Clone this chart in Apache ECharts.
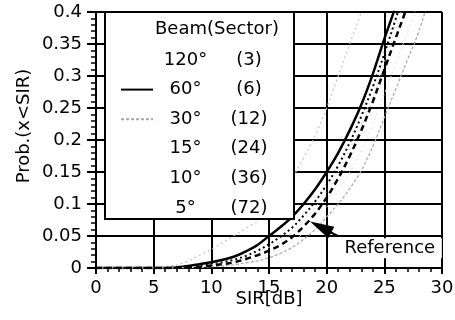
<!DOCTYPE html>
<html>
<head>
<meta charset="utf-8">
<script src="https://cdn.jsdelivr.net/npm/echarts@6/dist/echarts.min.js"></script>
<style>html,body{margin:0;padding:0;background:#fff}#c{width:455px;height:320px}</style>
</head>
<body>
<div id="c"></div>
<script>
// ---- data ----
const sir = [0,5,6,7,8,9,10,11,12,13,14,15,16,17,18,19,20,21,22,23,24,25,26,27,28,29,30];
const beam120 = [0,0,0.002,0.005,0.011,0.02,0.029,0.04,0.051,0.062,0.073,0.09,0.112,0.14,0.172,0.207,0.25,0.3,0.35,0.4,0.46,null,null,null,null,null,null];
const beam60  = [0,0,0,0.001,0.003,0.006,0.009,0.013,0.018,0.026,0.036,0.05,0.064,0.08,0.1,0.123,0.15,0.18,0.215,0.255,0.303,0.358,0.41,0.47,null,null,null];
const beam30  = [0,0,0,0,0.0005,0.001,0.002,0.003,0.005,0.008,0.011,0.016,0.023,0.032,0.045,0.06,0.08,0.1,0.124,0.152,0.19,0.235,0.28,0.325,0.37,0.43,null];
const beam15  = [0,0,0,0,0.002,0.003,0.006,0.009,0.013,0.019,0.027,0.037,0.049,0.063,0.082,0.104,0.13,0.16,0.196,0.237,0.283,0.335,0.39,0.45,null,null,null];
const beam10  = [0,0,0,0,0.0015,0.0025,0.005,0.0075,0.011,0.016,0.023,0.032,0.042,0.055,0.073,0.094,0.12,0.15,0.186,0.226,0.271,0.322,0.375,0.43,null,null,null];
const beam5   = [0,0,0,0,0.001,0.0015,0.003,0.0045,0.007,0.011,0.015,0.021,0.029,0.04,0.055,0.072,0.095,0.12,0.15,0.183,0.225,0.272,0.32,0.368,0.42,null,null];
const reference = [0,0,0,0,0.001,0.002,0.004,0.006,0.009,0.014,0.02,0.027,0.036,0.048,0.065,0.085,0.11,0.14,0.175,0.215,0.26,0.31,0.36,0.41,0.47,null,null];

const beamNames = ['120°','60°','30°','15°','10°','5°'];
const sectorNames = ['(3)','(6)','(12)','(24)','(36)','(72)'];
const legendTitle = 'Beam(Sector)';
const xTickLabels = ['0','5','10','15','20','25','30'];
const yTickLabels = ['0','0.05','0.1','0.15','0.2','0.25','0.3','0.35','0.4'];
const refLabel = 'Reference';
const refLabelAt = [25.13, 0.031];
const refArrowFrom = [20.96, 0.05];
const refArrowTo = [19.48, 0.064];

// ---- chart ----
const FONT = 'DejaVu Sans';
const FS = 18;
const pairs = arr => sir.map((x, i) => [x, arr[i]]);
const beamData = [beam120, beam60, beam30, beam15, beam10, beam5];
const beamStyles = [
  {color:'#c4c4c4', width:1.2, type:[2,3]},
  {color:'#000', width:2.5, type:'solid'},
  {color:'#a8a8a8', width:1.2, type:[3,2]},
  {color:'#000', width:2, type:[2,3]},
  {color:'#dedede', width:1, type:[2,3]},
  {color:'#e2e2e2', width:1, type:[2,3]}
];
const legendVisible = [false, true, true, false, false, false];

const series = beamData.map((d, i) => ({
  name: beamNames[i] + '|' + sectorNames[i],
  type: 'line',
  data: pairs(d),
  symbol: 'none',
  smooth: 0.35,
  clip: true,
  z: 2,
  color: beamStyles[i].color,
  lineStyle: beamStyles[i]
}));
series.push({
  name: refLabel,
  type: 'line',
  data: pairs(reference),
  symbol: 'none',
  smooth: 0.35,
  clip: true,
  z: 3,
  color: '#000',
  lineStyle: {color:'#000', width:2.5, type:[6,4]},
  markPoint: {
    silent: true,
    symbol: 'rect',
    symbolSize: [112, 20],
    itemStyle: {color:'#fff'},
    label: {show:true, position:'inside', formatter: refLabel, color:'#000', fontSize:FS, fontFamily:FONT, offset:[4,0]},
    data: [{coord: refLabelAt}]
  },
  markLine: {
    silent: true,
    animation: false,
    lineStyle: {color:'#000', width:2, type:'solid'},
    label: {show:false},
    data: [[
      {coord: refArrowFrom, symbol:'none'},
      {coord: refArrowTo, symbol:'triangle', symbolSize:[13,24]}
    ]]
  }
});

const chart = echarts.init(document.getElementById('c'), null, {renderer:'canvas'});
chart.setOption({
  animation: false,
  backgroundColor: '#fff',
  textStyle: {fontFamily: FONT, color:'#000'},
  title: {
    text: legendTitle, left: 155, top: 20, padding: 0, z: 10,
    textStyle: {fontSize: FS, fontWeight:'normal', color:'#000', fontFamily: FONT}
  },
  grid: {left: 96, right: 13, top: 12, bottom: 52, containLabel: false, outerBoundsMode: 'none'},
  legend: {
    left: 105, top: 12, orient: 'vertical',
    padding: [38, 9, 1, 15],
    backgroundColor: '#fff', borderColor: '#000', borderWidth: 2,
    itemWidth: 32, itemHeight: 14, itemGap: 9.6,
    selectedMode: false,
    itemStyle: {opacity: 0},
    data: series.slice(0, 6).map((s, i) => ({
      name: s.name,
      itemStyle: {opacity: 0},
      lineStyle: legendVisible[i] ? undefined : {opacity: 0}
    })),
    formatter: n => { const p = n.split('|'); return '{a|' + p[0] + '}{b|' + p[1] + '}'; },
    textStyle: {
      fontSize: FS, fontFamily: FONT, color:'#000', lineHeight: 20,
      rich: {
        a: {width: 55, align: 'right', fontSize: FS, fontFamily: FONT, color:'#000', lineHeight: 20},
        b: {width: 72, align: 'center', fontSize: FS, fontFamily: FONT, color:'#000', lineHeight: 20}
      }
    }
  },
  xAxis: {
    type: 'value', min: 0, max: 30, interval: 5,
    name: 'SIR[dB]', nameLocation: 'middle', nameGap: 22, nameMoveOverlap: false,
    nameTextStyle: {fontSize: FS, fontFamily: FONT, color:'#000'},
    axisLine: {show: true, onZero: false, lineStyle: {color:'#000', width: 2}},
    axisTick: {show: true, length: 6, lineStyle: {color:'#000', width: 2}},
    minorTick: {show: true, splitNumber: 5, length: 4, lineStyle: {color:'#000', width: 1.5}},
    axisLabel: {margin: 11, fontSize: FS, fontFamily: FONT, color:'#000',
      formatter: v => xTickLabels[Math.round(v / 5)]},
    splitLine: {show: true, lineStyle: {color:'#000', width: 2}}
  },
  yAxis: {
    type: 'value', min: 0, max: 0.4, interval: 0.05,
    name: 'Prob.(x<SIR)', nameLocation: 'middle', nameGap: 63, nameMoveOverlap: false,
    nameTextStyle: {fontSize: FS, fontFamily: FONT, color:'#000', padding: [0, 0, 0, 28]},
    axisLine: {show: true, onZero: false, lineStyle: {color:'#000', width: 2}},
    axisTick: {show: true, length: 9, lineStyle: {color:'#000', width: 2}},
    minorTick: {show: true, splitNumber: 5, length: 5, lineStyle: {color:'#000', width: 1.5}},
    axisLabel: {margin: 14, fontSize: FS, fontFamily: FONT, color:'#000',
      formatter: v => yTickLabels[Math.round(v / 0.05)]},
    splitLine: {show: true, lineStyle: {color:'#000', width: 2}}
  },
  series: series
});
</script>
</body>
</html>
